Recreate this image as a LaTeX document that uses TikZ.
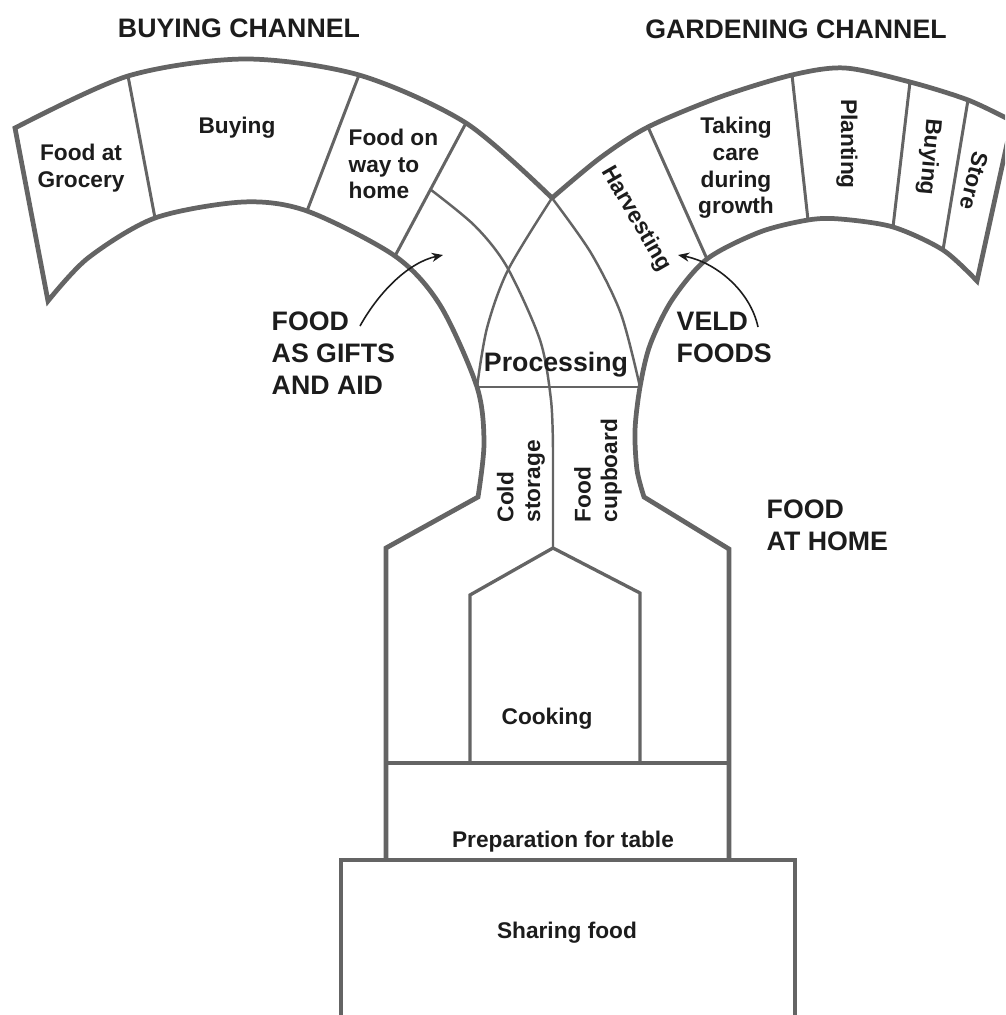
\documentclass[tikz,border=0pt]{standalone}
\usepackage{fontspec}
\setmainfont{Liberation Sans}
\usetikzlibrary{arrows.meta,calc}
\definecolor{linegray}{RGB}{100,100,100}
\definecolor{textblack}{RGB}{28,28,28}
\tikzset{
  thickline/.style={line width=1.35pt, draw=linegray, line join=miter},
  divider/.style={line width=0.85pt, draw=linegray},
  thinline/.style={line width=0.7pt, draw=linegray},
  procline/.style={line width=0.55pt, draw=linegray},
  cookline/.style={line width=0.95pt, draw=linegray},
  pointer/.style={line width=0.45pt, draw=textblack, -{Stealth[length=3.2pt, width=2.6pt]}},
  celltext/.style={font=\fontsize{6.45}{7.6}\selectfont\bfseries, text=textblack, inner sep=0pt, align=center},
  headtext/.style={font=\fontsize{7.6}{9.1}\selectfont\bfseries, text=textblack, inner sep=0pt}
}
\begin{document}
\begin{tikzpicture}[x=0.01cm, y=-0.01cm]
\useasboundingbox (0,0) rectangle (1005,1015);
\clip (0,0) rectangle (1005,1015);
\coordinate (cross) at (552,198);
\foreach \x/\y [count=\index] in {15/128,128/76,359/75,466/123}
    \coordinate (buy-out-\index) at (\x,\y);
\foreach \x/\y [count=\index] in {48/301,155/218,307/211,395/256}
    \coordinate (buy-in-\index) at (\x,\y);
\foreach \x/\y [count=\index] in {1012/121,968/100,910/82,792/75,648/127}
    \coordinate (gar-out-\index) at (\x,\y);
\foreach \x/\y [count=\index] in {977/281,943/250,893/227,808/220,707/259}
    \coordinate (gar-in-\index) at (\x,\y);
\coordinate (proc-left) at (477,387);
\coordinate (proc-right) at (640,387);
\coordinate (neck-left) at (478,497);
\coordinate (neck-right) at (644,497);
\coordinate (apex) at (553,548);
% buying channel band, left side of the stem
\draw[thickline] plot[smooth] coordinates {(cross) (buy-out-4) (buy-out-3) (245,59) (buy-out-2) (buy-out-1)}
    -- plot[smooth] coordinates {(buy-in-1) (88,258) (buy-in-2) (243,202) (buy-in-3) (buy-in-4) (440,305) (proc-left) (484,443) (neck-left)}
    -- (386,548) -- (386,860);
% gardening channel band, right side of the stem
\draw[thickline] plot[smooth] coordinates {(cross) (600,158) (gar-out-5) (720,97) (gar-out-4) (845,68) (gar-out-3) (gar-out-2) (gar-out-1)}
    -- plot[smooth] coordinates {(gar-in-1) (gar-in-2) (gar-in-3) (840,219) (gar-in-4) (760,232) (gar-in-5) (672,300) (650,345) (proc-right) (635,430) (637,470) (neck-right)}
    -- (729,549) -- (729,860);
\draw[thinline] plot[smooth] coordinates {(cross) (591,253) (621,314) (proc-right)};
\draw[thinline] plot[smooth] coordinates {(cross) (508,270) (487,328) (proc-left)};
\foreach \index in {2,3,4} \draw[divider] (buy-out-\index) -- (buy-in-\index);
\foreach \index in {2,...,5} \draw[divider] (gar-out-\index) -- (gar-in-\index);
\coordinate (mid-start) at ($(buy-out-4)!0.5!(buy-in-4)$);
\draw[thinline] plot[smooth] coordinates {(mid-start) (475,226) (507,267) (540,340) (551,400) (553,450)} -- (apex);
\draw[procline] (proc-left) -- (proc-right);
\draw[cookline] (470,763) -- (470,595) -- (apex) -- (640,593) -- (640,763);
\draw[thickline] (386,763) -- (729,763);
\draw[thickline] (341,1030) -- (341,860) -- (795,860) -- (795,1030);
\node[headtext] (buy-title) at (239,28) {BUYING CHANNEL};
\node[headtext] (gar-title) at (796,29) {GARDENING CHANNEL};
\node[celltext] (grocery) at (81,168) {Food at\\Grocery};
\node[celltext] (buying) at (237,128) {Buying};
\node[celltext, align=left, anchor=west] (way) at (348,164) {Food on\\way to\\home};
\node[celltext] (care) at (736,168) {Taking\\care\\during\\growth};
\node[celltext, rotate=-90] (planting) at (847,144) {Planting};
\node[celltext, rotate=-95] (gar-buying) at (929,157) {Buying};
\node[celltext, rotate=-104] (store) at (974,181) {Store};
\node[celltext, rotate=-60] (harvest) at (636,219) {Harvesting};
\node[headtext] (proc) at (556,365) {Processing};
\node[celltext, rotate=90, align=left, anchor=west] (cold) at (521,523) {Cold\\storage};
\node[celltext, rotate=90, align=left, anchor=west] (cupboard) at (598,523) {Food\\cupboard};
\node[celltext] (cooking) at (547,719) {Cooking};
\node[celltext] (prep) at (563,842) {Preparation for table};
\node[celltext] (sharing) at (567,933) {Sharing food};
\node[headtext, align=left, anchor=west] (gifts) at (271,353) {FOOD\\AS GIFTS\\AND AID};
\node[headtext, align=left, anchor=west] (veld) at (676,337) {VELD\\FOODS};
\node[headtext, align=left, anchor=west] (home) at (766,525) {FOOD\\AT HOME};
\coordinate (gift-tail) at (360,326);
\coordinate (gift-head) at (443,255);
\coordinate (veld-tail) at (758,327);
\coordinate (veld-head) at (678,255);
\draw[pointer] (gift-tail) .. controls (380,290) and (410,262) .. (gift-head);
\draw[pointer] (veld-tail) .. controls (750,290) and (715,262) .. (veld-head);
\end{tikzpicture}
\end{document}
